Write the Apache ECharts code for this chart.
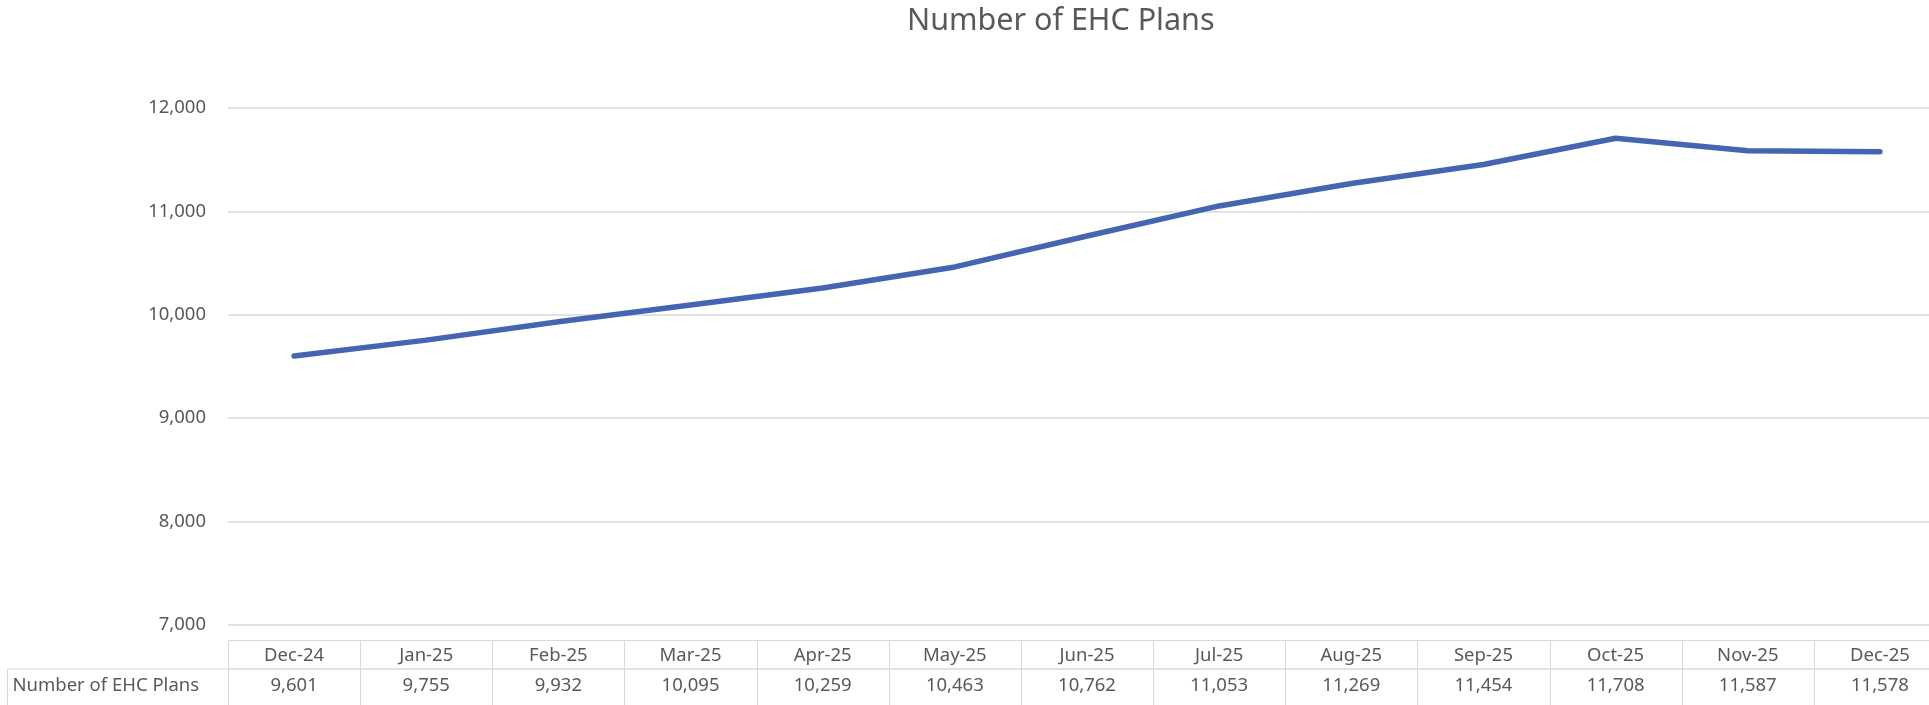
<!DOCTYPE html>
<html>
<head>
<meta charset="utf-8">
<script src="https://cdn.jsdelivr.net/npm/echarts@6/dist/echarts.min.js"></script>
<style>
html,body{margin:0;padding:0;background:#fff;}
#chart{width:1929px;height:705px;}
</style>
</head>
<body>
<div id="chart"></div>
<script>
const categories = ['Dec-24','Jan-25','Feb-25','Mar-25','Apr-25','May-25','Jun-25','Jul-25','Aug-25','Sep-25','Oct-25','Nov-25','Dec-25'];
const planCounts = [9601, 9755, 9932, 10095, 10259, 10463, 10762, 11053, 11269, 11454, 11708, 11587, 11578];
const seriesName = 'Number of EHC Plans';
const chartTitle = 'Number of EHC Plans';
const yTicks = [7000, 8000, 9000, 10000, 11000, 12000];

const FONT = '"Noto Sans", sans-serif';
const TEXT_COLOR = '#595959';
const BORDER = '#D9D9D9';
const LINE_COLOR = '#4565B2';

const GRID_LEFT = 228;
const GRID_WIDTH = 1718;
const ROW1_H = 28.5;
const ROW2_H = 45;
const HEADER_LEFT = 7.5;

const fmt = v => v.toLocaleString('en-US');

function renderTable(params, api) {
  const idx = params.dataIndex;
  const cx = api.coord([idx, 0])[0];
  const w = api.size([1, 0])[0];
  const cs = params.coordSys;
  const top = cs.y;
  const left = Math.round(cx - w / 2) + 0.5;
  const right = Math.round(cx + w / 2) + 0.5;
  const children = [
    {type:'rect', shape:{x:left, y:top, width:right-left, height:ROW1_H}, style:{fill:'none', stroke:BORDER, lineWidth:1}},
    {type:'rect', shape:{x:left, y:top+ROW1_H, width:right-left, height:ROW2_H}, style:{fill:'none', stroke:BORDER, lineWidth:1}},
    {type:'text', style:{text:categories[idx], x:cx, y:top+ROW1_H/2+1, align:'center', verticalAlign:'middle', fill:TEXT_COLOR, fontSize:18.5, fontFamily:FONT}},
    {type:'text', style:{text:fmt(api.value(1)), x:cx, y:top+ROW1_H+17, align:'center', verticalAlign:'middle', fill:TEXT_COLOR, fontSize:18.5, fontFamily:FONT}}
  ];
  if (idx === 0) {
    children.push(
      {type:'rect', shape:{x:HEADER_LEFT, y:top+ROW1_H, width:left-HEADER_LEFT, height:ROW2_H}, style:{fill:'none', stroke:BORDER, lineWidth:1}},
      {type:'text', style:{text:seriesName, x:HEADER_LEFT+5, y:top+ROW1_H+17, align:'left', verticalAlign:'middle', fill:TEXT_COLOR, fontSize:18.5, fontFamily:FONT}}
    );
  }
  return {type:'group', children};
}

const chart = echarts.init(document.getElementById('chart'), null, {renderer:'canvas'});
chart.setOption({
  animation:false,
  backgroundColor:'#ffffff',
  title:{
    text:chartTitle,
    left:902,
    top:1,
    textStyle:{fontFamily:FONT, fontSize:30.5, fontWeight:'normal', color:TEXT_COLOR}
  },
  grid:[
    {left:GRID_LEFT, width:GRID_WIDTH, top:108, height:517, containLabel:false, outerBoundsMode:'none'},
    {left:GRID_LEFT, width:GRID_WIDTH, top:640.5, height:ROW1_H+ROW2_H, containLabel:false, outerBoundsMode:'none'}
  ],
  xAxis:[
    {type:'category', gridIndex:0, data:categories, boundaryGap:true,
     axisLine:{show:false}, axisTick:{show:false}, axisLabel:{show:false}, splitLine:{show:false}},
    {type:'category', gridIndex:1, data:categories, boundaryGap:true, show:false}
  ],
  yAxis:[
    {type:'value', gridIndex:0, min:yTicks[0], max:yTicks[yTicks.length-1], interval:1000,
     axisLine:{show:false}, axisTick:{show:false},
     axisLabel:{formatter:v=>fmt(v), color:TEXT_COLOR, fontFamily:FONT, fontSize:18.5, margin:22},
     splitLine:{lineStyle:{color:BORDER, width:1.5}}},
    {type:'value', gridIndex:1, min:0, max:1, show:false}
  ],
  series:[
    {type:'line', name:seriesName, xAxisIndex:0, yAxisIndex:0, data:planCounts,
     showSymbol:false, symbol:'none', smooth:false,
     lineStyle:{color:LINE_COLOR, width:5.5, cap:'round', join:'round'}},
    {type:'custom', name:'table', xAxisIndex:1, yAxisIndex:1, clip:false,
     data:categories.map((c,i)=>[i, planCounts[i]]),
     renderItem:renderTable, silent:true}
  ]
});
</script>
</body>
</html>
